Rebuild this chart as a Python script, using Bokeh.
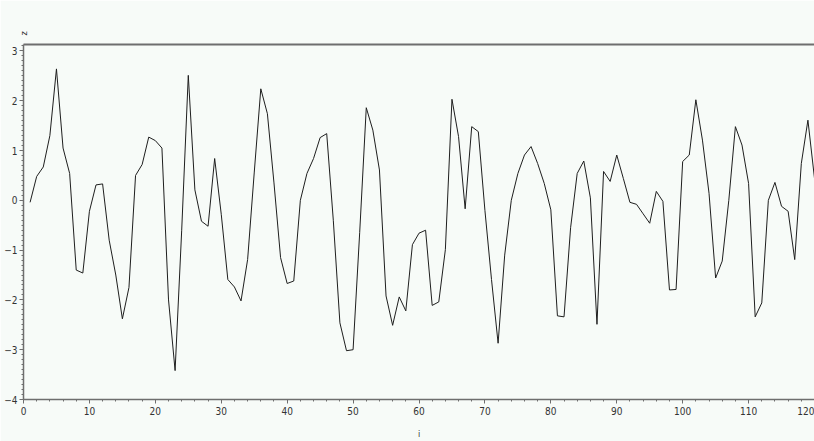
import math
from bokeh.plotting import figure
from bokeh.models import Range1d, LinearAxis, SingleIntervalTicker, FixedTicker
from bokeh.embed import file_html
from bokeh.resources import INLINE

i_vals = list(range(1, 121))
z_vals = [
    -0.04, 0.48, 0.67, 1.30, 2.64, 1.05, 0.54, -1.40, -1.46, -0.22,
    0.31, 0.33, -0.80, -1.50, -2.38, -1.75, 0.50, 0.72, 1.27, 1.20,
    1.05, -2.00, -3.42, -0.60, 2.51, 0.21, -0.42, -0.52, 0.84, -0.28,
    -1.59, -1.74, -2.02, -1.19, 0.55, 2.24, 1.74, 0.35, -1.15, -1.67,
    -1.62, 0.00, 0.54, 0.84, 1.26, 1.34, -0.40, -2.46, -3.02, -3.00,
    -0.65, 1.86, 1.41, 0.61, -1.92, -2.51, -1.94, -2.22, -0.89, -0.66,
    -0.60, -2.11, -2.04, -0.99, 2.03, 1.28, -0.17, 1.48, 1.38, -0.20,
    -1.59, -2.87, -1.10, 0.00, 0.54, 0.91, 1.08, 0.74, 0.34, -0.19,
    -2.32, -2.34, -0.55, 0.54, 0.79, 0.05, -2.49, 0.58, 0.38, 0.91,
    0.44, -0.04, -0.08, -0.27, -0.46, 0.18, -0.02, -1.80, -1.79, 0.78,
    0.91, 2.02, 1.21, 0.14, -1.56, -1.22, 0.00, 1.48, 1.11, 0.34,
    -2.34, -2.06, 0.00, 0.36, -0.12, -0.22, -1.19, 0.74, 1.61, 0.44,
]
x_label = "i"
y_label = "z"

BG = "#f7fbf8"
AX = "#6e6e6e"
FONT = "DejaVu Sans Condensed"

p = figure(width=814, height=441, output_backend="svg", toolbar_location=None,
           x_range=Range1d(0, 120), y_range=Range1d(-4.0, 3.13),
           min_border_left=23, min_border_right=0, min_border_top=44,
           min_border_bottom=40)
p.background_fill_color = BG
p.border_fill_color = BG
p.outline_line_color = None
p.grid.visible = False

p.line(i_vals, z_vals, line_color="#1e1e1e", line_width=1)

xa = p.xaxis[0]
xa.ticker = SingleIntervalTicker(interval=10, num_minor_ticks=5)
xa.axis_label = x_label
xa.axis_label_text_font = FONT
xa.axis_label_text_font_size = "9px"
xa.axis_label_text_font_style = "normal"
xa.axis_label_text_color = "#333333"
xa.axis_label_standoff = 11

ya = p.yaxis[0]
ya.ticker = SingleIntervalTicker(interval=1, num_minor_ticks=10)

for ax in (xa, ya):
    ax.axis_line_color = AX
    ax.axis_line_width = 1.5
    ax.major_tick_line_color = AX
    ax.minor_tick_line_color = AX
    ax.major_tick_out = 4
    ax.major_tick_in = 0
    ax.minor_tick_out = 2
    ax.minor_tick_in = 0
    ax.major_label_text_font = FONT
    ax.major_label_text_font_size = "10px"
    ax.major_label_text_color = "#333333"
    ax.major_label_standoff = 3
ya.major_label_standoff = 2

# top border line; its single label carries the vertical-axis name
top = LinearAxis(ticker=FixedTicker(ticks=[0]))
top.axis_line_color = AX
top.axis_line_width = 2
top.major_tick_line_color = None
top.minor_tick_line_color = None
top.major_label_overrides = {0: y_label}
top.major_label_orientation = math.pi / 2
top.major_label_standoff = 3
top.major_label_text_font = FONT
top.major_label_text_font_size = "9px"
top.major_label_text_color = "#333333"
p.add_layout(top, "above")

open("out.html", "w").write(file_html(p, INLINE))
